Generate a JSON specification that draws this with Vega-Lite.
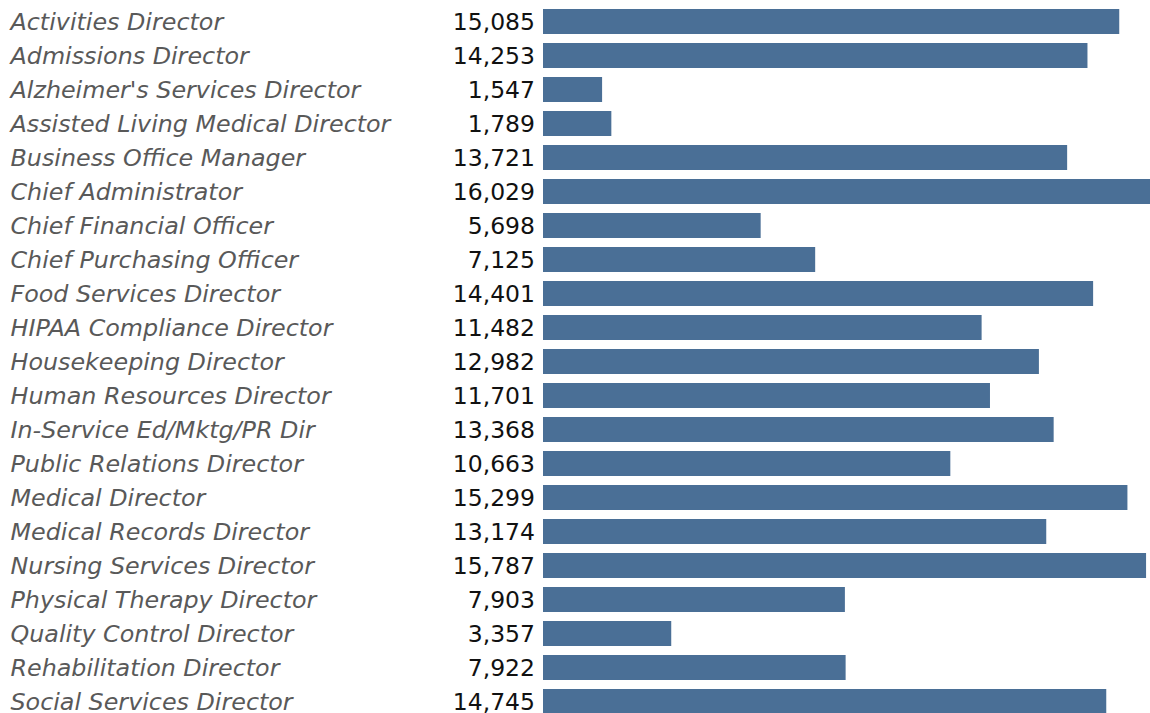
{
  "$schema": "https://vega.github.io/schema/vega-lite/v6.json",
  "autosize": "none",
  "padding": {"left": 543, "top": 4.5, "right": 0, "bottom": 0},
  "width": 607,
  "height": 708.5,
  "background": "white",
  "config": {"view": {"stroke": null}, "font": "DejaVu Sans"},
  "data": {"values": [
    {"title": "Activities Director", "count": 15085},
    {"title": "Admissions Director", "count": 14253},
    {"title": "Alzheimer's Services Director", "count": 1547},
    {"title": "Assisted Living Medical Director", "count": 1789},
    {"title": "Business Office Manager", "count": 13721},
    {"title": "Chief Administrator", "count": 16029},
    {"title": "Chief Financial Officer", "count": 5698},
    {"title": "Chief Purchasing Officer", "count": 7125},
    {"title": "Food Services Director", "count": 14401},
    {"title": "HIPAA Compliance Director", "count": 11482},
    {"title": "Housekeeping Director", "count": 12982},
    {"title": "Human Resources Director", "count": 11701},
    {"title": "In-Service Ed/Mktg/PR Dir", "count": 13368},
    {"title": "Public Relations Director", "count": 10663},
    {"title": "Medical Director", "count": 15299},
    {"title": "Medical Records Director", "count": 13174},
    {"title": "Nursing Services Director", "count": 15787},
    {"title": "Physical Therapy Director", "count": 7903},
    {"title": "Quality Control Director", "count": 3357},
    {"title": "Rehabilitation Director", "count": 7922},
    {"title": "Social Services Director", "count": 14745}
  ]},
  "encoding": {
    "y": {
      "field": "title",
      "type": "nominal",
      "sort": null,
      "scale": {"range": [0, 714], "paddingInner": 0.265, "paddingOuter": 0.1325},
      "axis": {
        "title": null,
        "domain": false,
        "ticks": false,
        "tickSize": 0,
        "labelAlign": "left",
        "labelPadding": 533,
        "labelFont": "DejaVu Sans",
        "labelFontStyle": "italic",
        "labelFontSize": 23.8,
        "labelColor": "#595959",
        "labelLimit": 0,
        "labelOffset": 1
      }
    }
  },
  "layer": [
    {
      "mark": {"type": "bar", "color": "#4a6f96", "clip": true},
      "encoding": {
        "x": {
          "field": "count",
          "type": "quantitative",
          "scale": {"domain": [0, 15890], "nice": false, "zero": true},
          "axis": null
        }
      }
    },
    {
      "mark": {"type": "text", "align": "right", "baseline": "middle", "dx": -8, "dy": 1, "fontSize": 23.5, "font": "DejaVu Sans", "color": "#111111"},
      "encoding": {
        "x": {"datum": 0, "type": "quantitative"},
        "text": {"field": "count", "type": "quantitative", "format": ","}
      }
    }
  ]
}
